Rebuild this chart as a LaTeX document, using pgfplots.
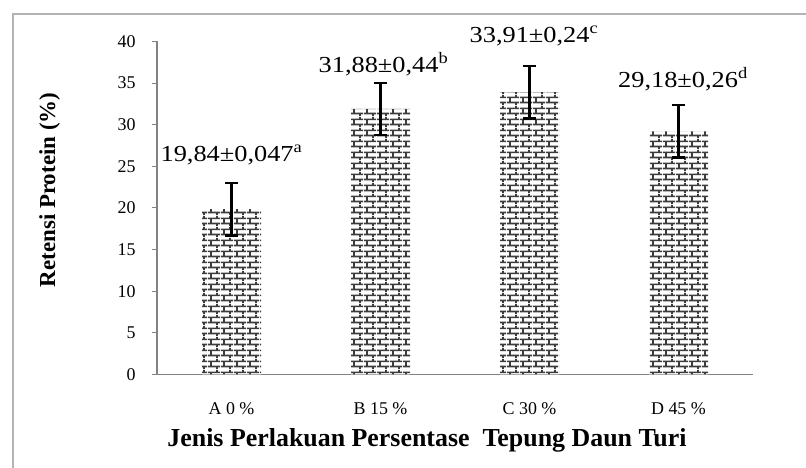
\documentclass[border=0pt]{standalone}
\usepackage{fontspec}
\setmainfont{Liberation Serif}
\usepackage{pgfplots}
\pgfplotsset{compat=1.18}
\usetikzlibrary{patterns}
\pgfdeclarepatternformonly{mybricks}{\pgfpointorigin}{\pgfpoint{13bp}{11bp}}{\pgfpoint{13bp}{11bp}}{%
 \pgfsetlinewidth{1.8bp}%
 \pgfpathmoveto{\pgfpoint{0bp}{2.75bp}}\pgfpathlineto{\pgfpoint{13bp}{2.75bp}}%
 \pgfpathmoveto{\pgfpoint{0bp}{8.25bp}}\pgfpathlineto{\pgfpoint{13bp}{8.25bp}}%
 \pgfpathmoveto{\pgfpoint{3.25bp}{2.75bp}}\pgfpathlineto{\pgfpoint{3.25bp}{8.25bp}}%
 \pgfpathmoveto{\pgfpoint{9.75bp}{8.25bp}}\pgfpathlineto{\pgfpoint{9.75bp}{11bp}}%
 \pgfpathmoveto{\pgfpoint{9.75bp}{0bp}}\pgfpathlineto{\pgfpoint{9.75bp}{2.75bp}}%
 \pgfusepath{stroke}}
\definecolor{axgray}{RGB}{130,130,130}
\definecolor{mortar}{RGB}{60,60,60}
\definecolor{framegray}{RGB}{180,180,180}
\newcommand{\barlab}[1]{\scalebox{1.15}[1]{\fontsize{23}{25}\selectfont #1}}
\begin{document}
\begin{tikzpicture}[x=1bp,y=1bp]
\useasboundingbox (0,0) rectangle (806,468);
\draw[framegray, line width=1.5bp] (13,0) -- (13,454) -- (806,454);
\begin{axis}[
  at={(157bp,93.6bp)}, anchor=south west,
  scale only axis, width=596bp, height=333bp,
  xmin=-0.5, xmax=3.5, ymin=0, ymax=40,
  axis x line=bottom, axis y line=left,
  axis line style={axgray, line width=1.2bp, -},
  ytick={0,5,...,40},
  xtick={0,1,2,3},
  xticklabels={A 0 \%, B 15 \%, C 30 \%, D 45 \%},
  x tick style={draw=none},
  extra x ticks={-0.5,0.5,1.5,2.5,3.5},
  extra x tick labels={},
  extra x tick style={tick style={draw=axgray, line width=1bp}, major tick length=5bp},
  tick align=outside,
  y tick style={axgray, line width=1bp},
  major tick length=5bp,
  yticklabel style={font=\fontsize{18}{20}\selectfont, xshift=-13bp},
  xticklabel style={font=\fontsize{18}{20}\selectfont, yshift=-20bp},
  /pgf/number format/assume math mode=true,
  ylabel={\textbf{Retensi Protein (\%)}},
  ylabel style={font=\fontsize{23}{26}\selectfont, at={(axis description cs:-0.18,0.554)}, anchor=center},
  xlabel={\textbf{Jenis Perlakuan Persentase\ \ Tepung Daun Turi}},
  xlabel style={font=\fontsize{26}{28}\selectfont, at={(axis description cs:0.453,-0.199)}, anchor=center},
  clip=false,
]
\addplot[ybar, bar width=59bp, fill=white, draw=none,
  postaction={pattern=mybricks, pattern color=mortar},
  error bars/.cd, y dir=both, y explicit,
  error bar style={black, line width=3bp},
  error mark options={black, rotate=90, mark size=6.5bp, line width=2.5bp}]
  coordinates {(0,19.84) +- (0,3.15) (1,31.88) +- (0,3.15) (2,33.91) +- (0,3.15) (3,29.18) +- (0,3.15)};
\node[anchor=base] at (axis cs:0.0,25.6) {\barlab{19,84±0,047\textsuperscript{a}}};
\node[anchor=base] at (axis cs:1.02,36.3) {\barlab{31,88±0,44\textsuperscript{b}}};
\node[anchor=base] at (axis cs:2.03,39.85) {\barlab{33,91±0,24\textsuperscript{c}}};
\node[anchor=base] at (axis cs:3.03,34.5) {\barlab{29,18±0,26\textsuperscript{d}}};
\end{axis}
\end{tikzpicture}
\end{document}
